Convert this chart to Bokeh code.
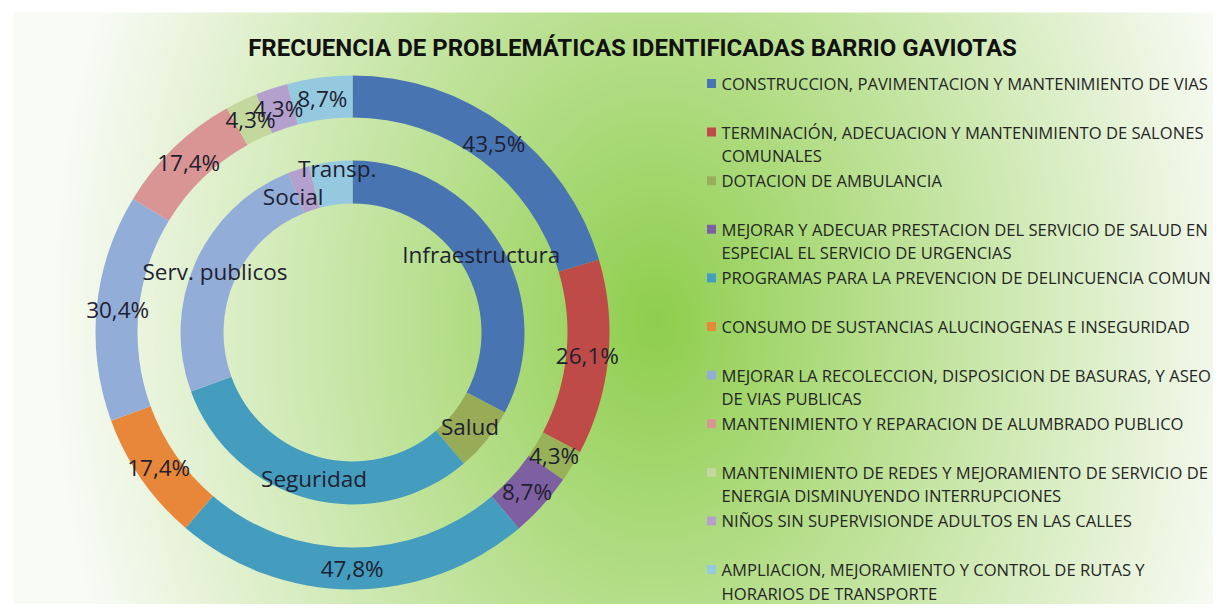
import numpy as np
import pandas as pd
from bokeh.plotting import figure
from bokeh.models import ColumnDataSource, Range1d
from bokeh.embed import file_html
from bokeh.resources import INLINE
from bokeh.core.properties import value

# ---------------- data ----------------
title_text = "FRECUENCIA DE PROBLEMÁTICAS IDENTIFICADAS BARRIO  GAVIOTAS"

items = [
    "CONSTRUCCION, PAVIMENTACION Y MANTENIMIENTO DE VIAS",
    "TERMINACIÓN, ADECUACION Y MANTENIMIENTO DE SALONES\nCOMUNALES",
    "DOTACION DE AMBULANCIA",
    "MEJORAR Y ADECUAR PRESTACION DEL SERVICIO DE SALUD EN\nESPECIAL EL SERVICIO DE URGENCIAS",
    "PROGRAMAS PARA LA PREVENCION DE DELINCUENCIA COMUN",
    "CONSUMO DE SUSTANCIAS ALUCINOGENAS E INSEGURIDAD",
    "MEJORAR LA RECOLECCION, DISPOSICION DE BASURAS,  Y ASEO\nDE VIAS PUBLICAS",
    "MANTENIMIENTO Y REPARACION DE ALUMBRADO PUBLICO",
    "MANTENIMIENTO DE REDES Y MEJORAMIENTO DE SERVICIO DE\nENERGIA DISMINUYENDO INTERRUPCIONES",
    "NIÑOS SIN SUPERVISIONDE ADULTOS EN LAS CALLES",
    "AMPLIACION, MEJORAMIENTO Y CONTROL DE RUTAS Y\nHORARIOS DE TRANSPORTE",
]
item_pct = [43.5, 26.1, 4.3, 8.7, 47.8, 17.4, 30.4, 17.4, 4.3, 4.3, 8.7]
item_group = ["Infraestructura", "Infraestructura", "Salud", "Salud",
              "Seguridad", "Seguridad", "Serv. publicos", "Serv. publicos",
              "Serv. publicos", "Social", "Transp."]
item_colors = ["#4874B2", "#BE4B48", "#98B058", "#7E60A2", "#449DBE", "#E8873A",
               "#93ADD9", "#D99594", "#C4D89E", "#B3A0CC", "#95C9E0"]
group_names = ["Infraestructura", "Salud", "Seguridad", "Serv. publicos", "Social", "Transp."]
group_colors = ["#4874B2", "#98AC58", "#449DBE", "#93ADD9", "#B3A0CC", "#95C9E0"]

# label nudges (px) to keep crowded inner labels apart, as in the original
inner_nudge = {"Social": (-12, -7), "Transp.": (4, 15)}

# ---------------- geometry / style ----------------
W, H = 1213, 604
SCR_H = 612                      # data y = SCR_H - screen y
CX, CY = 352, SCR_H - 332        # donut centre
R_OUT, R_OUT_IN = 257, 215
R_IN, R_IN_IN = 172, 129
LABEL_FONT = value("Open Sans")
TXT = "#1E2130"

p = figure(width=W, height=H, x_range=Range1d(0, W), y_range=Range1d(SCR_H - H, SCR_H),
           output_backend="svg", toolbar_location=None,
           x_axis_location=None, y_axis_location=None, min_border=0,
           background_fill_color="white", border_fill_color="white",
           outline_line_color=None)
p.xgrid.grid_line_color = None
p.ygrid.grid_line_color = None

# background radial gradient (green centre to white edges)
step = 2
gx0, gx1, gy0, gy1 = 13, 1213, SCR_H - H, SCR_H - 12
xs = np.arange(gx0, gx1, step) + step / 2
ys = np.arange(gy0, gy1, step) + step / 2
GX, GY = np.meshgrid(xs, ys)
scr_y = SCR_H - GY
t = np.sqrt(((GX - 655) / 600.0) ** 2 + ((scr_y - 320) / 820.0) ** 2)
t = np.clip(t, 0, 1) ** 0.95
c0 = np.array([142, 206, 76], dtype=float)
c1 = np.array([249, 251, 245], dtype=float)
img = np.empty(GX.shape, dtype=np.uint32)
view = img.view(dtype=np.uint8).reshape(GX.shape + (4,))
for k in range(3):
    view[..., k] = (c0[k] + (c1[k] - c0[k]) * t).astype(np.uint8)
view[..., 3] = 255
p.image_rgba(image=[img], x=gx0, y=gy0, dw=gx1 - gx0, dh=gy1 - gy0)

# ---------------- outer ring ----------------
vals = np.array(item_pct, dtype=float)
tot = vals.sum()
cum_end = np.cumsum(vals) / tot
cum_start = cum_end - vals / tot
start = np.pi / 2 - cum_end * 2 * np.pi       # clockwise from 12 o'clock
end = np.pi / 2 - cum_start * 2 * np.pi
mid = (start + end) / 2
r_mid_o = (R_OUT + R_OUT_IN) / 2
outer = ColumnDataSource(dict(
    start=start, end=end, color=item_colors,
    lx=CX + r_mid_o * np.cos(mid), ly=CY + r_mid_o * np.sin(mid),
    lab=[("%.1f%%" % v).replace(".", ",") for v in item_pct]))
p.annular_wedge(x=CX, y=CY, inner_radius=R_OUT_IN, outer_radius=R_OUT,
                start_angle="start", end_angle="end", direction="anticlock",
                fill_color="color", line_color=None, source=outer)

# ---------------- inner ring ----------------
df = pd.DataFrame(dict(g=item_group, v=item_pct))
gsum = df.groupby("g", sort=False)["v"].sum().reindex(group_names).values
g_end = np.cumsum(gsum) / tot
g_start = g_end - gsum / tot
gs = np.pi / 2 - g_end * 2 * np.pi
ge = np.pi / 2 - g_start * 2 * np.pi
gm = (gs + ge) / 2
r_mid_i = (R_IN + R_IN_IN) / 2
nx = [inner_nudge.get(g, (0, 0))[0] for g in group_names]
ny = [inner_nudge.get(g, (0, 0))[1] for g in group_names]
inner = ColumnDataSource(dict(
    start=gs, end=ge, color=group_colors,
    lx=CX + r_mid_i * np.cos(gm) + np.array(nx),
    ly=CY + r_mid_i * np.sin(gm) + np.array(ny), lab=group_names))
p.annular_wedge(x=CX, y=CY, inner_radius=R_IN_IN, outer_radius=R_IN,
                start_angle="start", end_angle="end", direction="anticlock",
                fill_color="color", line_color=None, source=inner)

# labels
for src in (outer, inner):
    p.text(x="lx", y="ly", text="lab", source=src, text_font=LABEL_FONT,
           text_font_size="22.5px", text_color=TXT, text_align="center",
           text_baseline="middle")

# title
p.text(x=[635], y=[SCR_H - 47], text=[title_text], text_font=value("Roboto"),
       text_font_size="24px", text_font_style="bold", text_color="#111111",
       text_align="center", text_baseline="middle")

# ---------------- legend ----------------
LEG_SQ_X, LEG_TX_X = 711, 721
LEG_Y0, LEG_STEP, LEG_LINE = 83, 48.6, 23.6
sq_x, sq_y, sq_c = [], [], []
lt_x, lt_y, lt_t = [], [], []
for i, (name, col) in enumerate(zip(items, item_colors)):
    y_scr = LEG_Y0 + i * LEG_STEP
    sq_x.append(LEG_SQ_X)
    sq_y.append(SCR_H - y_scr)
    sq_c.append(col)
    for j, line in enumerate(name.split("\n")):
        lt_x.append(LEG_TX_X)
        lt_y.append(SCR_H - (y_scr + j * LEG_LINE))
        lt_t.append(line)
p.rect(x=sq_x, y=sq_y, width=9, height=9, fill_color=sq_c, line_color=None)
p.text(x=lt_x, y=lt_y, text=lt_t, text_font=LABEL_FONT, text_font_size="16.6px",
       text_color="#262626", text_align="left", text_baseline="middle")

open("out.html", "w").write(file_html(p, INLINE))
